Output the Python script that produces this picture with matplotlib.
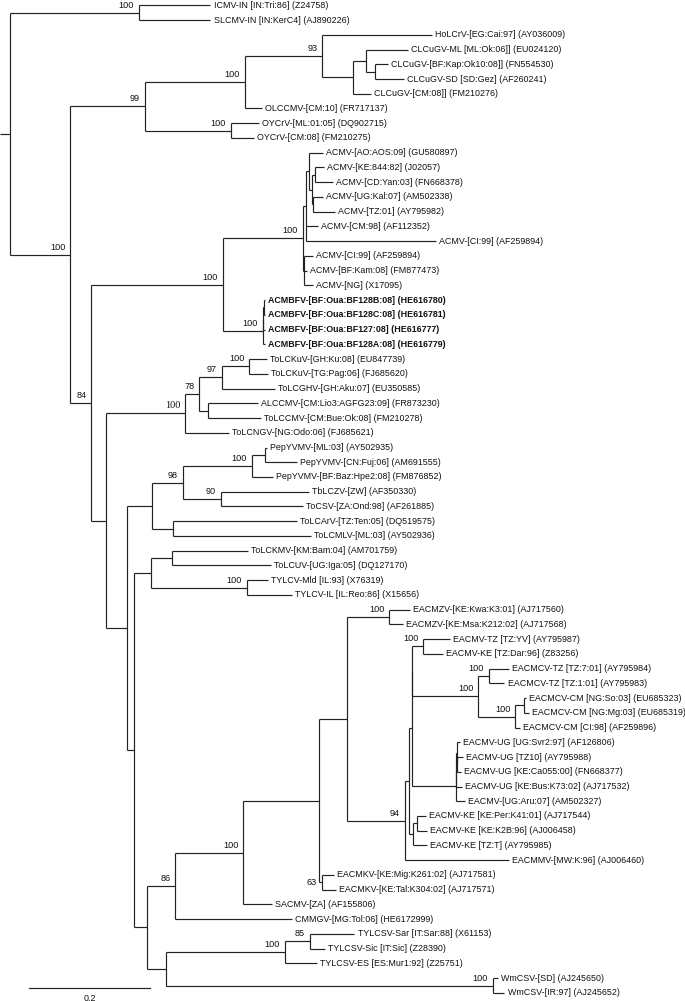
import matplotlib
matplotlib.use("Agg")
import matplotlib.pyplot as plt
from matplotlib.collections import LineCollection

# tree data: internal nodes (id, parent, branch length, bootstrap)
internal = [
    ("root", None, 0.0, ""),
    ("icmv", "root", 0.2132, "100"),
    ("x", "root", 0.1002, "100"),
    ("a99", "x", 0.1231, "99"),
    ("c100", "a99", 0.1653, "100"),
    ("d93", "c100", 0.1284, "93"),
    ("e", "d93", 0.0506, ""),
    ("f", "e", 0.0215, ""),
    ("g", "f", 0.0149, ""),
    ("oy", "a99", 0.1426, "100"),
    ("b84", "x", 0.0347, "84"),
    ("h", "b84", 0.2179, "100"),
    ("acmv", "h", 0.1322, "100"),
    ("b", "acmv", 0.0050, ""),
    ("a1", "b", 0.0050, ""),
    ("a2", "a1", 0.0055, ""),
    ("a3", "a2", 0.0045, ""),
    ("a4", "a2", 0.0017, ""),
    ("cc", "acmv", 0.0021, ""),
    ("bfv", "h", 0.0661, "100"),
    ("bf1", "bfv", 0.0005, ""),
    ("bf2", "bf1", 0.0005, ""),
    ("i", "b84", 0.0245, ""),
    ("j", "i", 0.1306, "100"),
    ("n78", "j", 0.0236, "78"),
    ("n97", "n78", 0.0370, "97"),
    ("kuv", "n97", 0.0456, "100"),
    ("alc", "n78", 0.0139, ""),
    ("k", "i", 0.0347, ""),
    ("m", "k", 0.0413, ""),
    ("n98", "m", 0.0512, "98"),
    ("pep", "n98", 0.1140, "100"),
    ("p1", "pep", 0.0215, ""),
    ("n90", "n98", 0.0628, "90"),
    ("arml", "m", 0.0347, ""),
    ("q", "k", 0.0116, ""),
    ("o", "q", 0.0281, ""),
    ("p", "o", 0.0347, ""),
    ("tylcv", "o", 0.1587, "100"),
    ("r", "q", 0.0215, ""),
    ("s86", "r", 0.0469, "86"),
    ("u100", "s86", 0.1124, "100"),
    ("v", "u100", 0.1241, ""),
    ("w", "v", 0.0471, ""),
    ("ez", "w", 0.0702, "100"),
    ("y94", "w", 0.0959, "94"),
    ("z2", "y94", 0.0071, ""),
    ("z1", "z2", 0.0040, ""),
    ("z1b", "z1", 0.0010, ""),
    ("tzke", "z1b", 0.0182, "100"),
    ("eacmcv", "z1b", 0.1091, "100"),
    ("ctz", "eacmcv", 0.0177, "100"),
    ("ccm", "eacmcv", 0.0613, "100"),
    ("ngn", "ccm", 0.0142, ""),
    ("u1", "z1", 0.0727, ""),
    ("u2", "u1", 0.0008, ""),
    ("u3", "u2", 0.0008, ""),
    ("u4", "u3", 0.0008, ""),
    ("k1", "z2", 0.0066, ""),
    ("k2", "k1", 0.0066, ""),
    ("ekv", "v", 0.0064, "63"),
    ("t", "r", 0.0311, ""),
    ("tylcsv", "t", 0.1970, "100"),
    ("n85", "tylcsv", 0.0413, "85"),
    ("wm", "t", 0.5400, "100"),
]

# leaves, top to bottom (label, parent, branch length)
tips = [
    ("ICMV-IN [IN:Tri:86] (Z24758)", "icmv", 0.1188),
    ("SLCMV-IN [IN:KerC4] (AJ890226)", "icmv", 0.1188),
    ("HoLCrV-[EG:Cai:97] (AY036009)", "d93", 0.1812),
    ("CLCuGV-ML [ML:Ok:06]] (EU024120)", "f", 0.0694),
    ("CLCuGV-[BF:Kap:Ok10:08]] (FN554530)", "g", 0.0215),
    ("CLCuGV-SD [SD:Gez] (AF260241)", "g", 0.0471),
    ("CLCuGV-[CM:08]] (FM210276)", "e", 0.0291),
    ("OLCCMV-[CM:10] (FR717137)", "c100", 0.0286),
    ("OYCrV-[ML:01:05] (DQ902715)", "oy", 0.0463),
    ("OYCrV-[CM:08] (FM210275)", "oy", 0.0380),
    ("ACMV-[AO:AOS:09] (GU580897)", "a1", 0.0236),
    ("ACMV-[KE:844:82] (J02057)", "a3", 0.0140),
    ("ACMV-[CD:Yan:03] (FN668378)", "a3", 0.0298),
    ("ACMV-[UG:Kal:07] (AM502338)", "a4", 0.0160),
    ("ACMV-[TZ:01] (AY795982)", "a4", 0.0359),
    ("ACMV-[CM:98] (AF112352)", "b", 0.0198),
    ("ACMV-[CI:99] (AF259894)", "b", 0.2155),
    ("ACMV-[CI:99] (AF259894)", "cc", 0.0149),
    ("ACMV-[BF:Kam:08] (FM877473)", "cc", 0.0040),
    ("ACMV-[NG] (X17095)", "cc", 0.0149),
    ("ACMBFV-[BF:Oua:BF128B:08] (HE616780)", "bf2", 0.0015),
    ("ACMBFV-[BF:Oua:BF128C:08] (HE616781)", "bf2", 0.0015),
    ("ACMBFV-[BF:Oua:BF127:08] (HE616777)", "bf1", 0.0020),
    ("ACMBFV-[BF:Oua:BF128A:08] (HE616779)", "bfv", 0.0025),
    ("ToLCKuV-[GH:Ku:08] (EU847739)", "kuv", 0.0288),
    ("ToLCKuV-[TG:Pag:06] (FJ685620)", "kuv", 0.0301),
    ("ToLCGHV-[GH:Aku:07] (EU350585)", "n97", 0.0881),
    ("ALCCMV-[CM:Lio3:AGFG23:09] (FR873230)", "alc", 0.0836),
    ("ToLCCMV-[CM:Bue:Ok:08] (FM210278)", "alc", 0.0881),
    ("ToLCNGV-[NG:Odo:06] (FJ685621)", "j", 0.0727),
    ("PepYVMV-[ML:03] (AY502935)", "p1", 0.0033),
    ("PepYVMV-[CN:Fuj:06] (AM691555)", "p1", 0.0529),
    ("PepYVMV-[BF:Baz:Hpe2:08] (FM876852)", "pep", 0.0347),
    ("TbLCZV-[ZW] (AF350330)", "n90", 0.1455),
    ("ToCSV-[ZA:Ond:98] (AF261885)", "n90", 0.1349),
    ("ToLCArV-[TZ:Ten:05] (DQ519575)", "arml", 0.2050),
    ("ToLCMLV-[ML:03] (AY502936)", "arml", 0.2273),
    ("ToLCKMV-[KM:Bam:04] (AM701759)", "p", 0.1256),
    ("ToLCUV-[UG:Iga:05] (DQ127170)", "p", 0.1636),
    ("TYLCV-Mld [IL:93] (X76319)", "tylcv", 0.0339),
    ("TYLCV-IL [IL:Reo:86] (X15656)", "tylcv", 0.0739),
    ("EACMZV-[KE:Kwa:K3:01] (AJ717560)", "ez", 0.0339),
    ("EACMZV-[KE:Msa:K212:02] (AJ717568)", "ez", 0.0217),
    ("EACMV-TZ [TZ:YV] (AY795987)", "tzke", 0.0435),
    ("EACMV-KE [TZ:Dar:96] (Z83256)", "tzke", 0.0326),
    ("EACMCV-TZ [TZ:7:01] (AY795984)", "ctz", 0.0327),
    ("EACMCV-TZ [TZ:1:01] (AY795983)", "ctz", 0.0255),
    ("EACMCV-CM [NG:So:03] (EU685323)", "ngn", 0.0033),
    ("EACMCV-CM [NG:Mg:03] (EU685319)", "ngn", 0.0083),
    ("EACMCV-CM [CI:98] (AF259896)", "ccm", 0.0071),
    ("EACMV-UG [UG:Svr2:97] (AF126806)", "u3", 0.0060),
    ("EACMV-UG [TZ10] (AY795988)", "u4", 0.0096),
    ("EACMV-UG [KE:Ca055:00] (FN668377)", "u4", 0.0069),
    ("EACMV-UG [KE:Bus:K73:02] (AJ717532)", "u2", 0.0102),
    ("EACMV-[UG:Aru:07] (AM502327)", "u1", 0.0154),
    ("EACMV-KE [KE:Per:K41:01] (AJ717544)", "k2", 0.0144),
    ("EACMV-KE [KE:K2B:96] (AJ006458)", "k2", 0.0155),
    ("EACMV-KE [TZ:T] (AY795985)", "k1", 0.0231),
    ("EACMMV-[MW:K:96] (AJ006460)", "y94", 0.1719),
    ("EACMKV-[KE:Mig:K261:02] (AJ717581)", "ekv", 0.0192),
    ("EACMKV-[KE:Tal:K304:02] (AJ717571)", "ekv", 0.0217),
    ("SACMV-[ZA] (AF155806)", "u100", 0.0473),
    ("CMMGV-[MG:Tol:06] (HE6172999)", "s86", 0.1922),
    ("TYLCSV-Sar [IT:Sar:88] (X61153)", "n85", 0.0734),
    ("TYLCSV-Sic [IT:Sic] (Z28390)", "n85", 0.0241),
    ("TYLCSV-ES [ES:Mur1:92] (Z25751)", "tylcsv", 0.0524),
    ("WmCSV-[SD] (AJ245650)", "wm", 0.0088),
    ("WmCSV-[IR:97] (AJ245652)", "wm", 0.0197),
]

scale_len = 0.2
serif_support = ["j"]
centered_support = ["ekv"]

# ---- layout ----
parent = {}
blen = {}
children = {}
for n, p, l, s in internal:
    parent[n] = p
    blen[n] = l
    children.setdefault(n, [])
    if p is not None:
        children.setdefault(p, []).append(n)
for i, (lab, p, l) in enumerate(tips):
    tid = "t%d" % i
    parent[tid] = p
    blen[tid] = l
    children.setdefault(p, []).append(tid)

ypos = {}
xpos = {}
first = {}


def place(n, x0):
    xpos[n] = x0 + blen[n]
    if n.startswith("t") and n[1:].isdigit():
        ypos[n] = int(n[1:])
        first[n] = ypos[n]
        return
    for c in children[n]:
        place(c, xpos[n])
    children[n].sort(key=lambda c: first[c])
    first[n] = first[children[n][0]]
    ypos[n] = (ypos[children[n][0]] + ypos[children[n][-1]]) / 2.0


place("root", 0.0)

segs = []
for n in xpos:
    p = parent[n]
    if p is not None:
        segs.append([(xpos[p], ypos[n]), (xpos[n], ypos[n])])
    if children.get(n):
        segs.append([(xpos[n], ypos[children[n][0]]), (xpos[n], ypos[children[n][-1]])])

# figure in pixel-matched units
W, H = 685, 1001
px_per_unit = 605.0
root_px = 9.6
y0_px, row_px = 5.3, 14.74
segs.append([(-root_px / px_per_unit, ypos["root"]), (0, ypos["root"])])

fig = plt.figure(figsize=(W / 100, H / 100), dpi=100)
ax = fig.add_axes([0, 0, 1, 1])
ax.set_xlim(-root_px / px_per_unit, (W - root_px) / px_per_unit)
ax.set_ylim((H - y0_px) / row_px, -y0_px / row_px)
ax.axis("off")

ax.add_collection(LineCollection(segs, colors="#222222", linewidths=0.85))

fs = 6.4
for i, (lab, p, l) in enumerate(tips):
    tid = "t%d" % i
    ax.annotate(lab, (xpos[tid], ypos[tid]), xytext=(2.2, 0), textcoords="offset points",
                ha="left", va="center", fontsize=fs, family="Liberation Sans",
                fontweight="bold" if lab.startswith("ACMBFV") else "normal", color="#111111")

for n, p, l, s in internal:
    if not s:
        continue
    if n in centered_support:
        ax.annotate(s, (xpos[parent[n]], ypos[n]), xytext=(-1.5, 0), textcoords="offset points",
                    ha="right", va="center", fontsize=fs + 0.2, family="Liberation Sans", color="#111111")
    else:
        fam = "Liberation Serif" if n in serif_support else "Liberation Sans"
        ax.annotate(s, (xpos[n], ypos[n]), xytext=(-3.6, 5.4), textcoords="offset points",
                    ha="right", va="center", fontsize=fs + (1.0 if n in serif_support else 0.2),
                    family=fam, color="#111111")

# scale bar
sb_x0 = (29 - root_px) / px_per_unit
sb_y = (988.3 - y0_px) / row_px
ax.plot([sb_x0, sb_x0 + scale_len], [sb_y, sb_y], color="#222222", lw=0.85)
ax.text(sb_x0 + scale_len / 2, (998.3 - y0_px) / row_px, "%.1f" % scale_len,
        ha="center", va="center", fontsize=fs, family="Liberation Sans", color="#111111")

fig.savefig("out.png", dpi=100)
